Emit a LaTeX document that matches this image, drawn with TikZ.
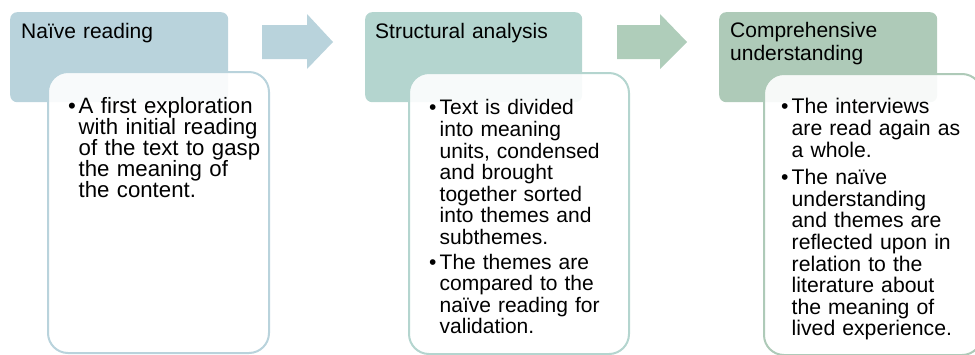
\documentclass[tikz,border=0pt]{standalone}
\usepackage{fontspec}
\setmainfont{Liberation Sans}
\usetikzlibrary{calc}
\definecolor{cA}{HTML}{B9D3DC}
\definecolor{cAarrow}{HTML}{B9D3DC}
\definecolor{cB}{HTML}{B4D5CF}
\definecolor{cBarrow}{HTML}{AFCDBA}
\definecolor{cC}{HTML}{AECAB8}
\newcommand\bitem{\par\leftskip=10.5pt\noindent\hspace*{-10.5pt}\makebox[10.5pt][l]{•}}
\newcommand\firstrule{\rule{0pt}{16pt}}
\tikzset{
  hdr/.style={rectangle, rounded corners=7pt, minimum width=218pt, minimum height=90pt, anchor=north west, inner sep=0pt},
  bodybox/.style={rectangle, rounded corners=20pt, line width=2pt, fill=white, fill opacity=0.9, minimum width=220pt, minimum height=281pt, anchor=north west, inner sep=0pt},
  hdrtext/.style={anchor=north west, inner sep=0pt, text width=205pt, font=\fontsize{21}{23}\selectfont},
  bodytext/.style={anchor=north west, inner sep=0pt, text width=210pt, font=\fontsize{21.2}{21.6}\selectfont},
}
\begin{document}
\begin{tikzpicture}[x=1pt,y=-1pt]
\useasboundingbox (0,0) rectangle (975,354);
% stage 1
\node[hdr, fill=cA] (hdr1) at (10,12) {};
\node[bodybox, draw=cA, minimum width=221pt] (body1) at (47,71) {};
\node[hdrtext] (lbl1) at ($(hdr1.north west)+(11,10)$) {\firstrule Naïve reading};
\node[bodytext, font=\fontsize{22.2}{21}\selectfont] (txt1) at ($(body1.north west)+(21,21)$) {%
\bitem\firstrule A first exploration\newline with initial reading\newline of the text to gasp\newline the meaning of\newline the content.\par};
% arrow 1
\coordinate (ar1) at (262,42);
\fill[cAarrow] (ar1) ++(0,-17) -- ++(45,0) -- ++(0,-11) -- ++(26,28) -- ++(-26,27) -- ++(0,-10) -- ++(-45,0) -- cycle;
% stage 2
\node[hdr, fill=cB, minimum width=217pt] (hdr2) at (365,12) {};
\node[bodybox, draw=cB] (body2) at (408,72) {};
\node[hdrtext] (lbl2) at ($(hdr2.north west)+(10,10)$) {\firstrule Structural analysis};
\node[bodytext, font=\fontsize{21}{21.6}\selectfont] (txt2) at ($(body2.north west)+(21,21)$) {%
\bitem\firstrule Text is divided\newline into meaning\newline units, condensed\newline and brought\newline together sorted\newline into themes and\newline subthemes.\par\vspace{3pt}
\bitem The themes are\newline compared to the\newline naïve reading for\newline validation.\par};
% arrow 2
\coordinate (ar2) at (617,42);
\fill[cBarrow] (ar2) ++(0,-17) -- ++(43,0) -- ++(0,-11) -- ++(27,28) -- ++(-27,27) -- ++(0,-10) -- ++(-43,0) -- cycle;
% stage 3
\node[hdr, fill=cC] (hdr3) at (719,12) {};
\node[bodybox, draw=cC, minimum width=218pt] (body3) at (763,73) {};
\node[hdrtext] (lbl3) at ($(hdr3.north west)+(11,9)$) {\firstrule Comprehensive\newline understanding};
\node[bodytext] (txt3) at ($(body3.north west)+(18,19)$) {%
\bitem\firstrule The interviews\newline are read again as\newline a whole.\par\vspace{6pt}
\bitem The naïve\newline understanding\newline and themes are\newline reflected upon in\newline relation to the\newline literature about\newline the meaning of\newline lived experience.\par};
\end{tikzpicture}
\end{document}
